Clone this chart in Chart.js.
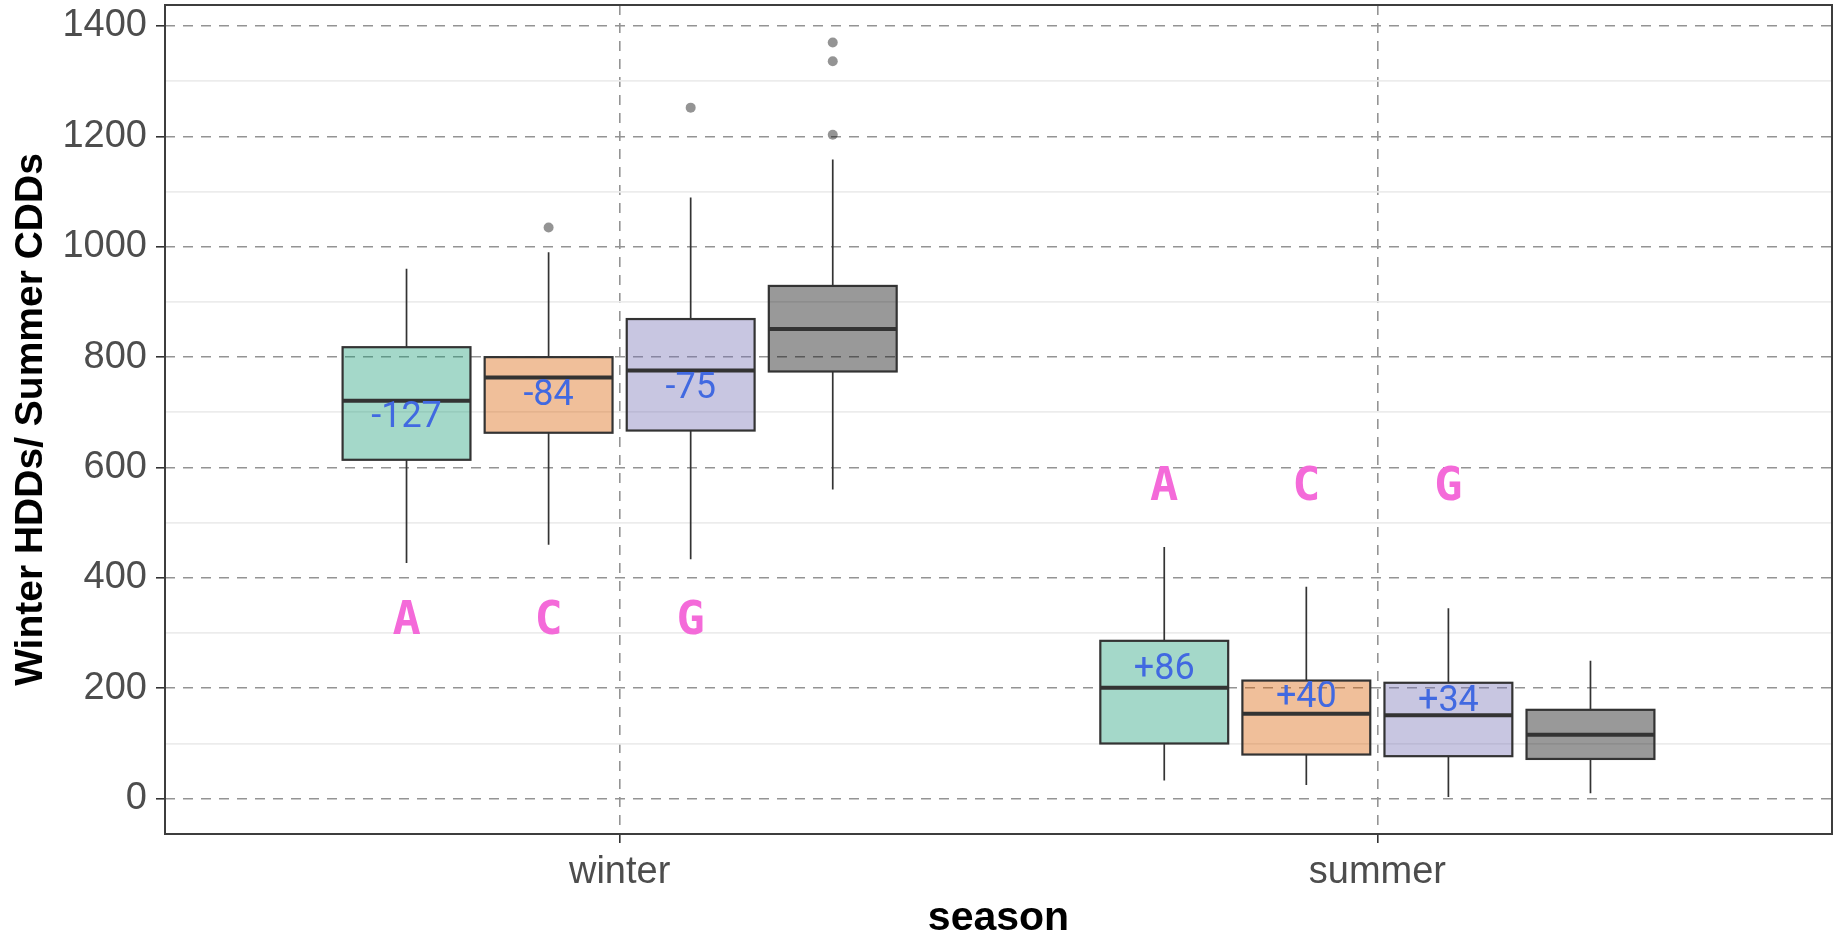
<!DOCTYPE html>
<html>
<head>
<meta charset="utf-8">
<title>Winter HDDs / Summer CDDs by season</title>
<script src="https://cdn.jsdelivr.net/npm/chart.js@4.4.1/dist/chart.umd.min.js"></script>
<style>
  html, body { margin: 0; padding: 0; background: #fff; }
  #wrap { width: 1837px; height: 944px; }
</style>
</head>
<body>
<div id="wrap"><canvas id="chart"></canvas></div>
<script>
const seasons = ['winter', 'summer'];
const models = ['A', 'C', 'G', 'obs'];
const boxColours = ['rgba(27,158,119,0.4)', 'rgba(217,95,2,0.4)', 'rgba(117,112,179,0.4)', 'rgba(0,0,0,0.4)'];

// each row is one model: [winter, summer]
const whiskerLow = [[427, 33], [460, 25], [434, 3], [560, 10]];
const quartile1 = [[614, 100], [663, 80], [667, 77], [774, 72]];
const medians = [[721, 201], [763, 154], [776, 151], [851, 116]];
const quartile3 = [[818, 286], [800, 214], [869, 210], [929, 161]];
const whiskerHigh = [[960, 456], [990, 384], [1089, 345], [1158, 250]];
const outliers = [[[], []], [[1035], []], [[1252], []], [[1203, 1336, 1370], []]];

// change labels (blue) and model letters (pink)
const diffLabels = [['-127', '+86'], ['-84', '+40'], ['-75', '+34']];
const diffLabelY = [[690, 234], [730, 182], [743, 175]];
const letterY = [320, 564];

const yTicks = [0, 200, 400, 600, 800, 1000, 1200, 1400];
const yMinorTicks = [100, 300, 500, 700, 900, 1100, 1300];

const dodge = 0.75 / models.length;
const boxWidth = dodge * 0.9;
const xPos = (mi, si) => si + 1 + (mi - (models.length - 1) / 2) * dodge;

const outlierPoints = [];
outliers.forEach((row, mi) => row.forEach((vals, si) => {
    vals.forEach(v => outlierPoints.push({x: xPos(mi, si), y: v}));
}));

const boxPlugin = {
    id: 'boxes',
    beforeDatasetsDraw(chart) {
        const {ctx, scales: {x, y}} = chart;
        ctx.save();
        models.forEach((m, mi) => {
            seasons.forEach((s, si) => {
                const cx = x.getPixelForValue(xPos(mi, si));
                const left = x.getPixelForValue(xPos(mi, si) - boxWidth / 2);
                const right = x.getPixelForValue(xPos(mi, si) + boxWidth / 2);
                const yLo = y.getPixelForValue(whiskerLow[mi][si]);
                const yQ1 = y.getPixelForValue(quartile1[mi][si]);
                const yMed = y.getPixelForValue(medians[mi][si]);
                const yQ3 = y.getPixelForValue(quartile3[mi][si]);
                const yHi = y.getPixelForValue(whiskerHigh[mi][si]);

                ctx.strokeStyle = '#333';
                ctx.lineWidth = 1.7;
                ctx.beginPath();
                ctx.moveTo(cx, yHi); ctx.lineTo(cx, yQ3);
                ctx.moveTo(cx, yQ1); ctx.lineTo(cx, yLo);
                ctx.stroke();

                ctx.fillStyle = boxColours[mi];
                ctx.fillRect(left, yQ3, right - left, yQ1 - yQ3);
                ctx.lineWidth = 2.2;
                ctx.strokeRect(left, yQ3, right - left, yQ1 - yQ3);

                ctx.lineWidth = 4;
                ctx.beginPath();
                ctx.moveTo(left, yMed); ctx.lineTo(right, yMed);
                ctx.stroke();
            });
        });
        ctx.restore();
    },
    afterDatasetsDraw(chart) {
        const {ctx, chartArea, scales: {x, y}} = chart;
        ctx.save();
        ctx.textAlign = 'center';
        ctx.textBaseline = 'middle';

        ctx.fillStyle = '#4169e1';
        ctx.font = '36px Roboto';
        diffLabels.forEach((row, mi) => row.forEach((txt, si) => {
            ctx.fillText(txt, x.getPixelForValue(xPos(mi, si)), y.getPixelForValue(diffLabelY[mi][si]));
        }));

        ctx.fillStyle = '#f46ad9';
        ctx.font = 'bold 47px "DejaVu Sans Mono"';
        seasons.forEach((s, si) => {
            models.slice(0, 3).forEach((m, mi) => {
                ctx.fillText(m, x.getPixelForValue(xPos(mi, si)), y.getPixelForValue(letterY[si]));
            });
        });

        // panel border
        ctx.strokeStyle = '#3d3d3d';
        ctx.lineWidth = 2;
        ctx.strokeRect(chartArea.left, chartArea.top, chartArea.right - chartArea.left, chartArea.bottom - chartArea.top);
        ctx.restore();
    }
};

Chart.defaults.font.family = '"Liberation Sans", Arial, sans-serif';

new Chart(document.getElementById('chart'), {
    type: 'scatter',
    data: {
        datasets: [{
            label: 'outliers',
            data: outlierPoints,
            pointRadius: 5,
            pointBorderWidth: 0,
            backgroundColor: 'rgba(0,0,0,0.42)',
            borderColor: 'rgba(0,0,0,0.42)'
        }]
    },
    options: {
        responsive: true,
        maintainAspectRatio: false,
        animation: false,
        layout: { padding: { top: 5, right: 2, left: 0, bottom: 0 } },
        plugins: {
            legend: { display: false },
            tooltip: { enabled: false }
        },
        scales: {
            x: {
                type: 'linear',
                min: 0.4,
                max: 2.6,
                afterBuildTicks: s => { s.ticks = seasons.map((_, i) => ({value: i + 1})); },
                ticks: {
                    callback: v => seasons[Math.round(v) - 1],
                    font: { size: 38 },
                    color: '#4d4d4d',
                    padding: 7,
                    maxRotation: 0,
                    autoSkip: false
                },
                grid: { color: '#949494', lineWidth: 1.6, tickColor: '#333', tickLength: 9, tickWidth: 1.6 },
                border: { display: false, dash: [10, 8] },
                title: {
                    display: true,
                    text: 'season',
                    font: { size: 41, weight: 'bold' },
                    color: '#000',
                    padding: { top: 0, bottom: 1 }
                },
                afterFit: s => { s.height = 110; s.paddingLeft = 0; s.paddingRight = 0; }
            },
            y: {
                type: 'linear',
                min: -64,
                max: 1438,
                afterBuildTicks: s => { s.ticks = yTicks.map(v => ({value: v})); },
                ticks: {
                    callback: v => String(v),
                    font: { size: 38 },
                    color: '#4d4d4d',
                    padding: 9,
                    autoSkip: false
                },
                grid: { color: '#949494', lineWidth: 1.6, tickColor: '#333', tickLength: 9, tickWidth: 1.6 },
                border: { display: false, dash: [10, 8] },
                title: {
                    display: true,
                    text: 'Winter HDDs/ Summer CDDs',
                    font: { size: 39, weight: 'bold' },
                    color: '#000',
                    padding: { top: 8, bottom: 0 }
                },
                afterFit: s => { s.width = 165; s.paddingTop = 0; s.paddingBottom = 0; }
            },
            yMinor: {
                type: 'linear',
                position: 'left',
                min: -64,
                max: 1438,
                afterBuildTicks: s => { s.ticks = yMinorTicks.map(v => ({value: v})); },
                ticks: { display: false },
                grid: { color: '#ececec', lineWidth: 1.8, drawTicks: false },
                border: { display: false },
                afterFit: s => { s.width = 0; s.paddingTop = 0; s.paddingBottom = 0; }
            }
        }
    },
    plugins: [boxPlugin]
});
</script>
</body>
</html>
